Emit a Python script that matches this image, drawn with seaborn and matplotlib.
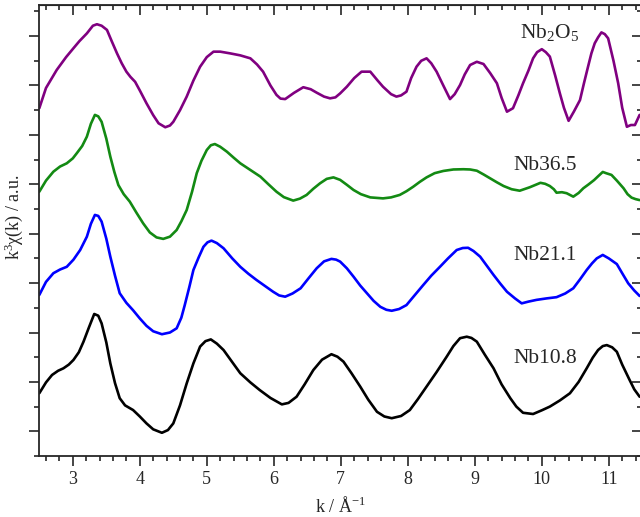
import matplotlib
matplotlib.use("Agg")
import matplotlib.pyplot as plt
from matplotlib.ticker import MultipleLocator, NullFormatter
import seaborn as sns
import numpy as np
import pandas as pd

# k^3 chi(k) spectra (already stacked with their offsets)
k_nb2o5 = [2.50, 2.60, 2.76, 2.90, 3.01, 3.10, 3.21, 3.30, 3.36, 3.43, 3.51, 3.58, 3.66, 3.73,
           3.80, 3.86, 3.93, 4.00, 4.10, 4.20, 4.28, 4.38, 4.45, 4.50, 4.60, 4.70, 4.80, 4.90,
           5.00, 5.10, 5.20, 5.35, 5.50, 5.65, 5.75, 5.84, 5.95, 6.04, 6.10, 6.17, 6.30, 6.44,
           6.55, 6.64, 6.75, 6.84, 6.92, 6.99, 7.09, 7.20, 7.31, 7.44, 7.55, 7.63, 7.75, 7.83,
           7.90, 7.98, 8.05, 8.13, 8.20, 8.28, 8.35, 8.43, 8.53, 8.63, 8.70, 8.78, 8.85, 8.93,
           9.03, 9.13, 9.23, 9.33, 9.40, 9.48, 9.57, 9.65, 9.72, 9.80, 9.87, 9.93, 10.00, 10.06,
           10.12, 10.20, 10.27, 10.33, 10.40, 10.48, 10.57, 10.63, 10.69, 10.74, 10.79, 10.84,
           10.89, 10.94, 10.99, 11.07, 11.14, 11.20, 11.27, 11.33, 11.39, 11.46]
y_nb2o5 = [13.08, 13.90, 14.63, 15.15, 15.51, 15.80, 16.11, 16.42, 16.48, 16.42, 16.25, 15.80,
           15.30, 14.90, 14.56, 14.35, 14.15, 13.80, 13.28, 12.80, 12.47, 12.31, 12.38, 12.53,
           13.00, 13.55, 14.20, 14.76, 15.15, 15.37, 15.37, 15.30, 15.22, 15.10, 14.85, 14.56,
           14.00, 13.62, 13.47, 13.45, 13.70, 13.93, 13.85, 13.71, 13.55, 13.48, 13.52, 13.68,
           13.95, 14.30, 14.56, 14.56, 14.20, 13.95, 13.65, 13.55, 13.60, 13.75, 14.30, 14.76,
           15.00, 15.10, 14.90, 14.56, 14.00, 13.45, 13.65, 14.02, 14.45, 14.83, 14.96, 14.87,
           14.50, 14.09, 13.50, 12.94, 13.08, 13.60, 14.09, 14.60, 15.10, 15.35, 15.47, 15.35,
           15.17, 14.40, 13.68, 13.10, 12.57, 12.95, 13.41, 14.10, 14.76, 15.30, 15.71, 15.95,
           16.15, 16.08, 15.91, 15.00, 14.09, 13.10, 12.33, 12.40, 12.40, 12.81]

k_nb365 = [2.50, 2.60, 2.71, 2.81, 2.91, 3.00, 3.06, 3.14, 3.21, 3.27, 3.33, 3.38, 3.43, 3.50,
           3.56, 3.62, 3.68, 3.76, 3.85, 3.95, 4.05, 4.15, 4.25, 4.35, 4.45, 4.55, 4.62, 4.70,
           4.78, 4.85, 4.92, 5.00, 5.06, 5.12, 5.20, 5.30, 5.40, 5.50, 5.65, 5.80, 5.92, 6.04,
           6.15, 6.29, 6.39, 6.49, 6.59, 6.69, 6.79, 6.89, 6.99, 7.09, 7.19, 7.30, 7.44, 7.63,
           7.75, 7.88, 7.98, 8.08, 8.18, 8.28, 8.40, 8.53, 8.68, 8.83, 8.93, 9.03, 9.13, 9.23,
           9.33, 9.43, 9.55, 9.67, 9.82, 9.98, 10.05, 10.12, 10.18, 10.22, 10.30, 10.37, 10.47,
           10.55, 10.62, 10.70, 10.78, 10.85, 10.91, 10.96, 11.04, 11.12, 11.22, 11.28, 11.34,
           11.40, 11.46]
y_nb365 = [9.70, 10.15, 10.51, 10.72, 10.85, 11.05, 11.26, 11.55, 11.93, 12.45, 12.81, 12.75,
           12.53, 11.85, 11.12, 10.50, 9.97, 9.60, 9.30, 8.85, 8.42, 8.05, 7.85, 7.79, 7.88,
           8.15, 8.50, 8.96, 9.70, 10.45, 10.95, 11.39, 11.58, 11.63, 11.52, 11.32, 11.08,
           10.85, 10.58, 10.31, 10.00, 9.70, 9.48, 9.34, 9.42, 9.57, 9.82, 10.04, 10.22, 10.28,
           10.18, 9.98, 9.77, 9.60, 9.47, 9.43, 9.47, 9.57, 9.72, 9.90, 10.10, 10.28, 10.45,
           10.54, 10.60, 10.61, 10.60, 10.55, 10.40, 10.24, 10.08, 9.93, 9.80, 9.74, 9.88, 10.06,
           10.02, 9.93, 9.80, 9.66, 9.68, 9.64, 9.50, 9.65, 9.84, 10.00, 10.17, 10.35, 10.50,
           10.45, 10.38, 10.15, 9.84, 9.60, 9.46, 9.40, 9.36]

k_nb211 = [2.50, 2.60, 2.71, 2.81, 2.91, 3.01, 3.11, 3.21, 3.27, 3.33, 3.38, 3.43, 3.50, 3.56,
           3.63, 3.70, 3.80, 3.90, 4.00, 4.10, 4.20, 4.33, 4.45, 4.55, 4.62, 4.67, 4.74, 4.80,
           4.88, 4.95, 5.01, 5.07, 5.15, 5.25, 5.38, 5.50, 5.62, 5.74, 5.87, 5.99, 6.08, 6.17,
           6.28, 6.40, 6.52, 6.64, 6.75, 6.86, 6.93, 6.99, 7.09, 7.19, 7.29, 7.39, 7.49, 7.59,
           7.68, 7.76, 7.87, 7.98, 8.10, 8.23, 8.35, 8.48, 8.60, 8.73, 8.82, 8.90, 8.98, 9.08,
           9.18, 9.28, 9.38, 9.48, 9.60, 9.70, 9.80, 9.92, 10.07, 10.22, 10.35, 10.47, 10.57,
           10.67, 10.75, 10.82, 10.91, 11.00, 11.12, 11.20, 11.29, 11.38, 11.46]
y_nb211 = [5.52, 6.05, 6.40, 6.55, 6.66, 6.95, 7.34, 7.88, 8.40, 8.76, 8.72, 8.49, 7.80, 7.07,
           6.30, 5.59, 5.20, 4.90, 4.57, 4.27, 4.05, 3.93, 4.00, 4.17, 4.60, 5.10, 5.85, 6.53,
           7.05, 7.47, 7.65, 7.72, 7.62, 7.41, 7.00, 6.66, 6.38, 6.13, 5.88, 5.65, 5.50, 5.45,
           5.58, 5.79, 6.20, 6.60, 6.88, 6.98, 6.95, 6.87, 6.60, 6.26, 5.90, 5.59, 5.28, 5.04,
           4.92, 4.88, 4.95, 5.11, 5.50, 5.92, 6.30, 6.66, 7.00, 7.34, 7.42, 7.43, 7.30, 7.07,
           6.70, 6.33, 5.98, 5.65, 5.38, 5.18, 5.25, 5.32, 5.38, 5.43, 5.58, 5.79, 6.15, 6.53,
           6.80, 7.00, 7.14, 7.00, 6.77, 6.40, 5.99, 5.70, 5.48]

k_nb108 = [2.50, 2.60, 2.69, 2.78, 2.86, 2.94, 3.01, 3.09, 3.16, 3.24, 3.32, 3.38, 3.43, 3.50,
           3.56, 3.63, 3.70, 3.78, 3.90, 4.00, 4.10, 4.20, 4.33, 4.42, 4.50, 4.60, 4.70, 4.80,
           4.90, 4.98, 5.06, 5.15, 5.25, 5.38, 5.50, 5.65, 5.79, 5.95, 6.12, 6.22, 6.34, 6.46,
           6.59, 6.72, 6.86, 6.95, 7.04, 7.16, 7.29, 7.41, 7.54, 7.65, 7.76, 7.90, 8.03, 8.15,
           8.28, 8.43, 8.58, 8.68, 8.78, 8.88, 8.95, 9.03, 9.15, 9.28, 9.40, 9.53, 9.62, 9.72,
           9.87, 10.00, 10.12, 10.27, 10.42, 10.55, 10.67, 10.76, 10.84, 10.91, 10.97, 11.05,
           11.12, 11.20, 11.31, 11.38, 11.46]
y_nb108 = [1.54, 1.98, 2.28, 2.45, 2.55, 2.70, 2.89, 3.20, 3.63, 4.20, 4.75, 4.68, 4.37, 3.60,
           2.75, 1.95, 1.34, 1.05, 0.86, 0.60, 0.32, 0.08, -0.06, 0.05, 0.32, 1.05, 1.94, 2.75,
           3.43, 3.65, 3.72, 3.55, 3.29, 2.80, 2.35, 1.98, 1.67, 1.35, 1.09, 1.15, 1.40, 1.90,
           2.48, 2.90, 3.12, 3.02, 2.82, 2.35, 1.81, 1.28, 0.79, 0.60, 0.53, 0.62, 0.86, 1.30,
           1.81, 2.40, 3.02, 3.45, 3.77, 3.83, 3.78, 3.63, 3.10, 2.55, 1.90, 1.34, 1.00, 0.75,
           0.70, 0.85, 1.00, 1.25, 1.54, 2.00, 2.55, 2.98, 3.29, 3.45, 3.49, 3.40, 3.22, 2.70,
           2.08, 1.70, 1.40]

samples = ["Nb$_2$O$_5$", "Nb36.5", "Nb21.1", "Nb10.8"]
colors = ["#800080", "#138a13", "#0000ff", "#000000"]
label_k = [9.67, 9.57, 9.57, 9.57]
label_y = [15.91, 10.58, 6.94, 2.78]

frames = []
for name, kk, yy in zip(samples, [k_nb2o5, k_nb365, k_nb211, k_nb108],
                        [y_nb2o5, y_nb365, y_nb211, y_nb108]):
  frames.append(pd.DataFrame({"k": kk, "chi": yy, "sample": name}))
df = pd.concat(frames, ignore_index=True)

sns.set_style("ticks")
plt.rcParams["font.family"] = ["Liberation Serif", "DejaVu Serif"]
plt.rcParams["mathtext.fontset"] = "custom"
plt.rcParams["mathtext.rm"] = "Liberation Serif"
plt.rcParams["mathtext.it"] = "Liberation Serif:italic"
plt.rcParams["mathtext.default"] = "regular"

fig = plt.figure(figsize=(6.4, 5.17), dpi=100)
ax = fig.add_axes([39.3 / 640, 61 / 517, 603 / 640, 451 / 517])

sns.lineplot(data=df, x="k", y="chi", hue="sample", palette=colors, sort=False,
             estimator=None, linewidth=1.9, legend=False, ax=ax)

for name, x, y in zip(samples, label_k, label_y):
  ax.text(x, y, name, fontsize=15.5, ha="left", va="baseline")

ax.set_xlim(2.5, 11.5)
ax.set_ylim(-1, -1 + 451 / 24.7)

for s in ax.spines.values():
  s.set_linewidth(1.3)

ax.xaxis.set_major_locator(MultipleLocator(1))
ax.xaxis.set_minor_locator(MultipleLocator(0.2))
ax.yaxis.set_major_locator(MultipleLocator(2))
ax.yaxis.set_minor_locator(MultipleLocator(1))
ax.tick_params(axis="both", which="both", direction="out", width=1.2, top=False, right=False)
ax.tick_params(axis="both", which="major", length=7, labelsize=13)
ax.tick_params(axis="both", which="minor", length=3.8)
ax.yaxis.set_major_formatter(NullFormatter())

# inward ticks on top and right
secx = ax.secondary_xaxis("top")
secx.xaxis.set_major_locator(MultipleLocator(1))
secx.xaxis.set_minor_locator(MultipleLocator(0.2))
secx.tick_params(which="both", direction="in", width=1.2, labeltop=False)
secx.tick_params(which="major", length=7)
secx.tick_params(which="minor", length=3.8)
secy = ax.secondary_yaxis("right")
secy.yaxis.set_major_locator(MultipleLocator(2))
secy.yaxis.set_minor_locator(MultipleLocator(1))
secy.tick_params(which="both", direction="in", width=1.2, labelright=False)
secy.tick_params(which="major", length=7)
secy.tick_params(which="minor", length=3.8)

ax.set_xlabel("k / Å$^{-1}$", fontsize=13)
ax.set_ylabel("k$^3$χ(k) / a.u.", fontsize=13)
ax.xaxis.set_label_coords(0.5, -0.089)
ax.yaxis.set_label_coords(-0.024, 0.53)

fig.savefig("out.png", dpi=100)
